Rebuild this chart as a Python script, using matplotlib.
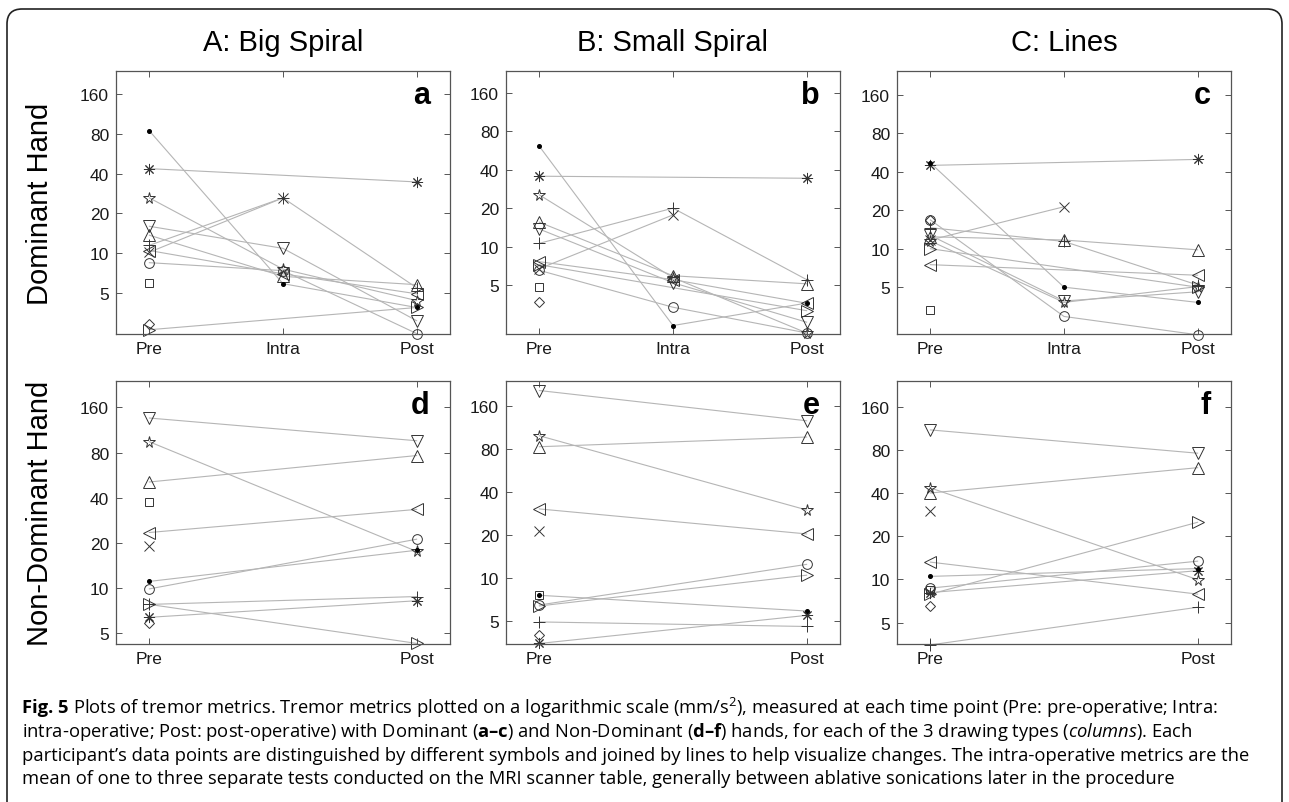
import numpy as np
import matplotlib
matplotlib.use('Agg')
import matplotlib.pyplot as plt
from matplotlib.patches import FancyBboxPatch

nan = np.nan

# one marker per participant (MATLAB style symbols)
markers = ['.', 'o', 'x', '+', (8, 2, 0), 's', 'D', 'v', '^', '<', '>', '*']

# Dominant hand, values at Pre / Intra / Post (mm/s^2)
big_dom_pre = [84, 8.5, 10.2, 11.5, 43.6, 6.0, 2.92, 16.0, 13.7, 10.5, 2.65, 26.2]
big_dom_intra = [5.9, 7.4, 26.2, 26.2, nan, nan, nan, 10.9, 6.7, 7.0, nan, 7.6]
big_dom_post = [3.9, 2.48, nan, 5.5, 34.6, nan, nan, 3.1, 5.8, 4.95, 3.9, 4.4]

small_dom_pre = [61, 6.5, 6.7, 10.6, 35.6, 4.8, 3.7, 13.7, 15.5, 7.6, 7.2, 25.4]
small_dom_intra = [2.4, 3.34, 17.7, 20, nan, nan, nan, 5.2, 5.9, 5.5, nan, 5.7]
small_dom_post = [3.6, 2.1, nan, 5.5, 34.3, nan, nan, 2.55, 5.1, 3.59, 3.14, 2.1]

lines_dom_pre = [46.9, 16.8, 11.7, 14.6, 44.9, 3.3, 16.8, 12.7, 12.4, 7.5, 10.0, 11.5]
lines_dom_intra = [5.0, 2.95, 21.3, 11.4, nan, nan, nan, 3.9, 11.7, nan, nan, 3.8]
lines_dom_post = [3.8, 2.12, nan, 5.2, 50, nan, nan, 4.6, 9.8, 6.2, 5.0, 5.05]

# Non-dominant hand, Pre / Post
big_nd_pre = [11.1, 9.9, 19, 7.8, 6.4, 37.8, 5.9, 136, 51, 23.5, 7.8, 94.5]
big_nd_post = [17.9, 21.2, nan, 8.8, 8.25, nan, nan, 96, 76.5, 33.5, 4.29, 17.6]

small_nd_pre = [7.6, 6.5, 21.5, 4.95, 3.5, 7.6, 4.0, 205, 83, 30.5, 6.4, 99]
small_nd_post = [5.9, 12.5, nan, 4.6, 5.5, nan, nan, 126, 97, 20.4, 10.5, 30]

lines_nd_pre = [10.5, 8.7, 29.8, 3.5, 8.1, 8.4, 6.5, 110, 40, 13.2, 7.9, 43.4]
lines_nd_post = [11.9, 13.4, nan, 6.4, 11.5, nan, nan, 75.7, 60, 7.9, 25, 9.97]

col_titles = ['A: Big Spiral', 'B: Small Spiral', 'C: Lines']
row_titles = ['Dominant Hand', 'Non-Dominant Hand']
panel_letters = ['a', 'b', 'c', 'd', 'e', 'f']
yticks = [5, 10, 20, 40, 80, 160]

panels = [
    ([1, 2, 3], ['Pre', 'Intra', 'Post'], [big_dom_pre, big_dom_intra, big_dom_post], (2.46, 238)),
    ([1, 2, 3], ['Pre', 'Intra', 'Post'], [small_dom_pre, small_dom_intra, small_dom_post], (2.06, 238)),
    ([1, 2, 3], ['Pre', 'Intra', 'Post'], [lines_dom_pre, lines_dom_intra, lines_dom_post], (2.15, 246)),
    ([1, 3], ['Pre', 'Post'], [big_nd_pre, big_nd_post], (4.25, 240)),
    ([1, 3], ['Pre', 'Post'], [small_nd_pre, small_nd_post], (3.47, 239)),
    ([1, 3], ['Pre', 'Post'], [lines_nd_pre, lines_nd_post], (3.55, 241)),
]

plt.rcParams['font.family'] = 'Liberation Sans'
plt.rcParams['mathtext.fontset'] = 'custom'
plt.rcParams['mathtext.rm'] = 'Open Sans'
plt.rcParams['mathtext.bf'] = 'Open Sans:bold'
plt.rcParams['mathtext.it'] = 'Open Sans:italic'

W, H = 1289, 803
fig = plt.figure(figsize=(W / 100, H / 100), dpi=100)

lefts = [116, 506, 897]
tops = [72, 382]
aw, ah = 334, 263

ink = '#333333'
for i, (xs, xlabels, cols, ylim) in enumerate(panels):
    r, c = divmod(i, 3)
    ax = fig.add_axes([lefts[c] / W, 1 - (tops[r] + ah) / H, aw / W, ah / H])
    vals = np.array(cols, dtype=float)  # shape (ntime, nparticipants)
    x = np.array(xs, dtype=float)
    for p, m in enumerate(markers):
        y = vals[:, p]
        ok = ~np.isnan(y)
        ax.plot(x[ok], y[ok], color='#b5b5b5', lw=0.8, zorder=1, clip_on=False)
    for p, m in enumerate(markers):
        y = vals[:, p]
        ok = ~np.isnan(y)
        if m == '.':
            ax.plot(x[ok], y[ok], ls='none', marker='o', ms=2.6, mfc='black', mec='black',
                    zorder=3, clip_on=False)
        else:
            ms = {'o': 7, 'x': 6.5, '+': 8, 's': 5.2, 'D': 5.5, '*': 8.5}.get(m, 8)
            if m == (8, 2, 0):
                ms = 8
            ax.plot(x[ok], y[ok], ls='none', marker=m, ms=ms, mfc='none', mec=ink,
                    mew=0.7, zorder=2, clip_on=False)
    ax.set_yscale('log')
    ax.set_ylim(*ylim)
    ax.set_xlim(0.75, 3.25)
    ax.set_yticks(yticks)
    ax.set_yticklabels([str(t) for t in yticks])
    ax.minorticks_off()
    ax.set_xticks(xs)
    ax.set_xticklabels(xlabels)
    ax.tick_params(direction='in', length=4, width=0.7, top=True, right=True,
                   labelsize=12.5, colors='#555555', labelcolor='#1a1a1a', pad=5)
    for s in ax.spines.values():
        s.set_color('#555555')
        s.set_linewidth(0.9)
    ax.text(0.94, 0.88, panel_letters[i], transform=ax.transAxes, ha='right',
            va='baseline', fontsize=22, fontweight='bold')

for c, t in enumerate(col_titles):
    fig.text((lefts[c] + aw / 2) / W, 1 - 43 / H, t, ha='center', va='center', fontsize=21)
for r, t in enumerate(row_titles):
    fig.text(40 / W, 1 - (tops[r] + ah / 2) / H, t, ha='center', va='center',
             rotation=90, fontsize=21)

caption = [
    r'Plots of tremor metrics. Tremor metrics plotted on a logarithmic scale (mm/s$^2$), measured at each time point (Pre: pre-operative; Intra:',
    r'intra-operative; Post: post-operative) with Dominant ($\mathbf{a–c}$) and Non-Dominant ($\mathbf{d–f}$) hands, for each of the 3 drawing types ($\mathit{columns}$). Each',
    'participant\u2019s data points are distinguished by different symbols and joined by lines to help visualize changes. The intra-operative metrics are the',
    'mean of one to three separate tests conducted on the MRI scanner table, generally between ablative sonications later in the procedure',
]
caption_y = [708, 732, 756, 779]
renderer = fig.canvas.get_renderer()
fs0 = 10.5
fig_lbl = fig.text(22 / W, 1 - caption_y[0] / H, 'Fig. 5 ', ha='left', va='center',
                   fontsize=fs0, family='Open Sans', fontweight='bold')
cap_texts = []
for line, yy in zip(caption, caption_y):
    cap_texts.append(fig.text(22 / W, 1 - yy / H, line, ha='left', va='center',
                              fontsize=fs0, family='Open Sans'))

# fit the caption to the width of the frame
lbl_w = fig_lbl.get_window_extent(renderer).width
widths = [t.get_window_extent(renderer).width for t in cap_texts]
widths[0] += lbl_w
scale = 1236 / max(widths)
fig_lbl.set_fontsize(fs0 * scale)
for t in cap_texts:
    t.set_fontsize(fs0 * scale)
lbl_w = fig_lbl.get_window_extent(renderer).width
cap_texts[0].set_x((22 + lbl_w) / W)

frame = FancyBboxPatch((7, -20), 1275, 813, boxstyle='round,pad=0,rounding_size=15',
                       transform=None, fill=False, ec='#222222', lw=1.2)
fig.patches.append(frame)

fig.savefig('out.png', dpi=100)
